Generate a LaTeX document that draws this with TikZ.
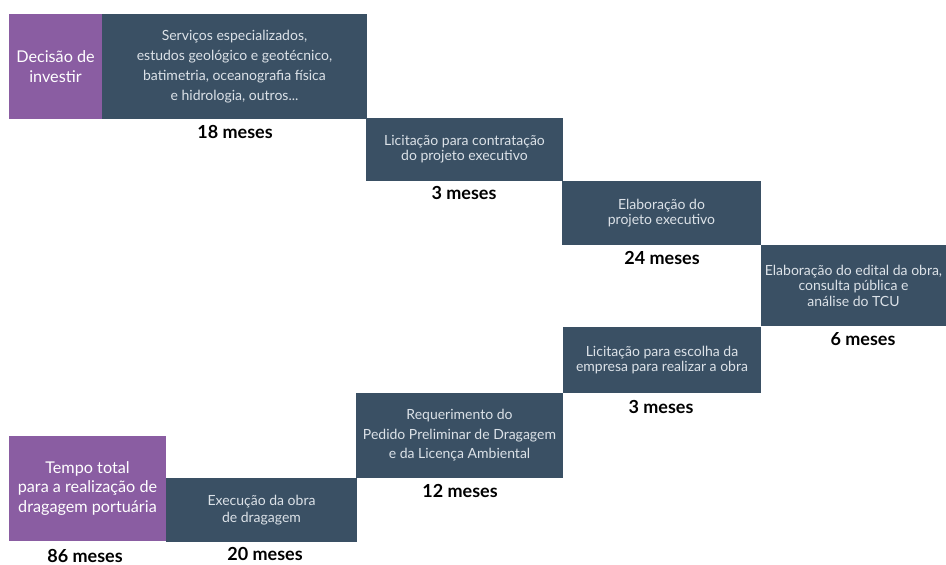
\documentclass[tikz,border=0pt]{standalone}
\usepackage{fontspec}
\setmainfont{Lato}
\definecolor{slate}{HTML}{3A5064}
\definecolor{violet}{HTML}{8A5DA2}
\definecolor{boxtext}{HTML}{DCE2E8}
\begin{document}
\begin{tikzpicture}[x=1pt,y=-1pt,
  stage/.style={fill=slate, draw=none, inner sep=0pt, align=center, text=boxtext,
    font=\fontsize{14}{15}\selectfont},
  total/.style={fill=violet, draw=none, inner sep=0pt, align=center, text=white,
    font=\fontsize{16.2}{19.5}\selectfont},
  dur/.style={inner sep=0pt, font=\fontsize{18}{20}\selectfont\bfseries, text=black}]
\useasboundingbox (0,0) rectangle (946,565);
% top purple
\node[total, minimum width=93, minimum height=105] (p1) at (55.5,66.5) {Decisão de\\investir};
\node[stage, minimum width=265, minimum height=105, font=\fontsize{14}{20}\selectfont] (b1) at (234.5,66.5)
  {Serviços especializados,\\estudos geológico e geotécnico,\\batimetria, oceanografia física\\e hidrologia, outros...};
\node[dur] (d1) at (235,132) {18 meses};
\node[stage, minimum width=197, minimum height=63] (b2) at (464.5,149.5)
  {Licitação para contratação\\do projeto executivo};
\node[dur] (d2) at (464,193) {3 meses};
\node[stage, minimum width=199, minimum height=64] (b3) at (661.5,213)
  {Elaboração do\\projeto executivo};
\node[dur] (d3) at (662,258) {24 meses};
\node[stage, minimum width=185, minimum height=81, font=\fontsize{14}{15.5}\selectfont] (b4) at (853.5,285.5)
  {Elaboração do edital da obra,\\consulta pública e\\análise do TCU};
\node[dur] (d4) at (863,339) {6 meses};
\node[stage, minimum width=198, minimum height=66] (b5) at (662,360)
  {Licitação para escolha da\\empresa para realizar a obra};
\node[dur] (d5) at (661,407) {3 meses};
\node[stage, minimum width=207, minimum height=85, font=\fontsize{14}{19.5}\selectfont] (b6) at (459.5,435.5)
  {Requerimento do\\Pedido Preliminar de Dragagem\\e da Licença Ambiental};
\node[dur] (d6) at (460,491) {12 meses};
\node[stage, minimum width=191, minimum height=64, font=\fontsize{14}{17}\selectfont] (b7) at (261.5,510)
  {Execução da obra\\de dragagem};
\node[dur] (d7) at (265,554) {20 meses};
% bottom purple
\node[total, minimum width=157, minimum height=105] (p2) at (87.5,488.5)
  {Tempo total\\para a realização de\\dragagem portuária};
\node[dur] (d8) at (85,555.5) {86 meses};
\end{tikzpicture}
\end{document}
